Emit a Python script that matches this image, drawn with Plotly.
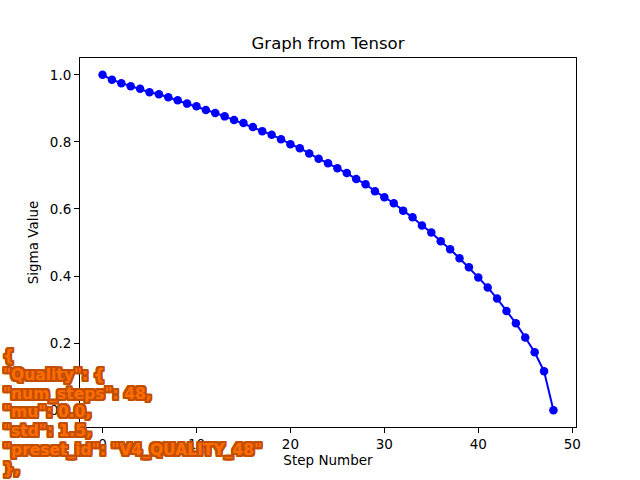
import plotly.graph_objects as go

# values
steps = list(range(49))
sigmas = [1.000, 0.985, 0.975, 0.966, 0.958, 0.948, 0.942, 0.933, 0.924, 0.914,
          0.906, 0.895, 0.886, 0.876, 0.865, 0.856, 0.844, 0.832, 0.821, 0.808,
          0.793, 0.781, 0.765, 0.750, 0.736, 0.721, 0.707, 0.689, 0.674, 0.653,
          0.635, 0.617, 0.595, 0.575, 0.551, 0.530, 0.504, 0.480, 0.453, 0.426,
          0.396, 0.366, 0.333, 0.296, 0.259, 0.217, 0.173, 0.116, 0.000]
x_ticks = [0, 10, 20, 30, 40, 50]
y_ticks = [0.0, 0.2, 0.4, 0.6, 0.8, 1.0]

overlay_lines = ['{', '"Quality": {', '"num_steps": 48,', '"mu": 0.0,',
                 '"std": 1.5,', '"preset_id": "V4_QUALITY_48"', '},']

W, H = 640, 480
L, R, T, B = 80, 64, 58, 53
plot_w = W - L - R
plot_h = H - T - B

fig = go.Figure()
fig.add_trace(go.Scatter(
    x=steps, y=sigmas,
    mode='lines+markers',
    line=dict(color='blue', width=2),
    marker=dict(color='blue', size=8.5),
    showlegend=False,
))

axis_style = dict(
    showline=True, linecolor='black', linewidth=1, mirror=True,
    ticks='outside', ticklen=5, tickcolor='black', showgrid=False,
    zeroline=False, tickfont=dict(size=13.5, color='black'),
)

fig.update_xaxes(range=[-2.4, 50.4], tickvals=x_ticks, ticktext=[str(v) for v in x_ticks],
                 title=dict(text='Step Number', font=dict(size=13.5, color='black'), standoff=4),
                 **axis_style)
fig.update_yaxes(range=[-0.05, 1.05], tickvals=y_ticks, ticktext=['%.1f' % v for v in y_ticks],
                 title=dict(text='Sigma Value', font=dict(size=13.5, color='black'), standoff=8),
                 **axis_style)

# orange json block with a dark outline, drawn over the axes, one line per annotation
outline = '#c24e00'
offs = (-2, -1, 0, 1, 2)
shadow = ', '.join(f'{dx}px {dy}px 0 {outline}' for dx in offs for dy in offs if dx or dy)

first_line_y, line_gap = 356, 18.8
for i, line in enumerate(overlay_lines):
    ypix = first_line_y + i * line_gap
    fig.add_annotation(
        text=line,
        xref='paper', yref='paper',
        x=-(L - 1) / plot_w, y=(H - B - ypix) / plot_h,
        xanchor='left', yanchor='middle', align='left',
        showarrow=False,
        font=dict(family='DejaVu Sans', size=15.5, color='#ff6c00', weight='bold', shadow=shadow),
    )

fig.update_layout(
    width=W, height=H,
    margin=dict(l=L, r=R, t=T, b=B),
    paper_bgcolor='white', plot_bgcolor='white',
    font=dict(family='DejaVu Sans', color='black'),
    title=dict(text='Graph from Tensor', x=0.5, xref='paper', xanchor='center',
               y=1 - 43 / H, yanchor='middle', font=dict(size=16.5, color='black')),
)

fig.write_html("out.html", config={'displayModeBar': False},
               post_script="document.body.style.margin='0px';")
